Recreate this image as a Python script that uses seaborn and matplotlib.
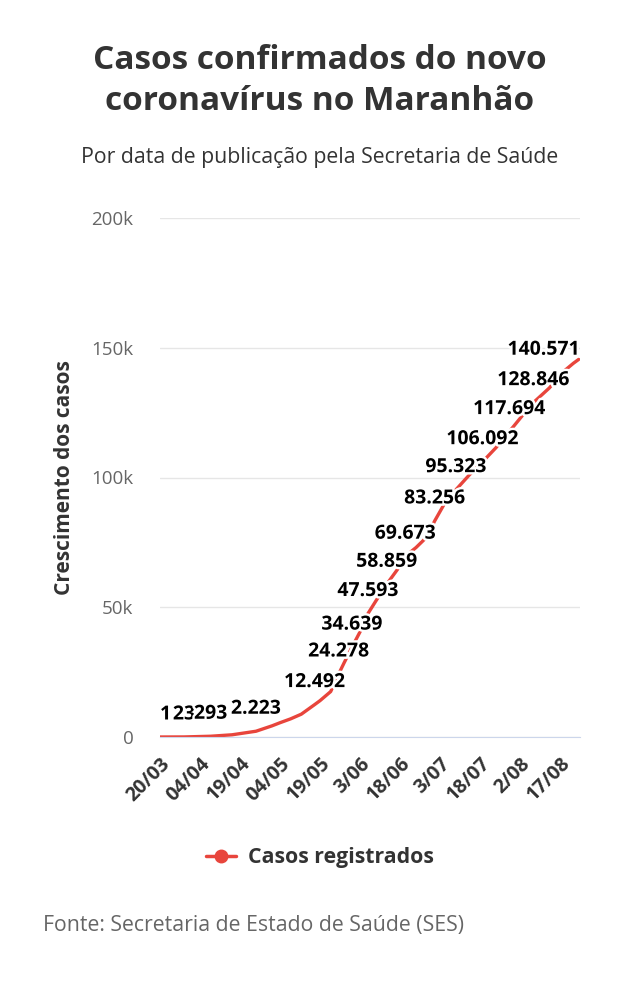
import matplotlib
matplotlib.use("Agg")
import matplotlib.pyplot as plt
import matplotlib.patheffects as pe
from matplotlib.lines import Line2D
import pandas as pd
import seaborn as sns

# Curve (date, cumulative cases)
line_dates = ["2020-03-20", "2020-03-29", "2020-04-08", "2020-04-16", "2020-04-25",
              "2020-05-01", "2020-05-04", "2020-05-08", "2020-05-12", "2020-05-17",
              "2020-05-19", "2020-05-23", "2020-05-26", "2020-05-28", "2020-05-31",
              "2020-06-03", "2020-06-06", "2020-06-09", "2020-06-13", "2020-06-17",
              "2020-06-20", "2020-06-24", "2020-06-28", "2020-07-01", "2020-07-05",
              "2020-07-09", "2020-07-14", "2020-07-19", "2020-07-24", "2020-07-29",
              "2020-08-03", "2020-08-07", "2020-08-13", "2020-08-18", "2020-08-22",
              "2020-08-24"]
line_cases = [1, 23, 293, 850, 2223,
              4300, 5500, 7000, 8800, 12492,
              14000, 17500, 24278, 28500, 34639,
              40500, 47593, 52500, 58859, 64500,
              69673, 73000, 77000, 83256, 90500,
              95323, 101000, 106092, 111500, 117694,
              124000, 128846, 134500, 140571, 144000,
              145500]

# points that carry a value label
label_dates = ["2020-03-20", "2020-03-29", "2020-04-08", "2020-04-25", "2020-05-17",
               "2020-05-26", "2020-05-31", "2020-06-06", "2020-06-13", "2020-06-20",
               "2020-07-01", "2020-07-09", "2020-07-19", "2020-07-29", "2020-08-07",
               "2020-08-18"]
label_texts = ["1", "23", "293", "2.223", "12.492", "24.278", "34.639", "47.593",
               "58.859", "69.673", "83.256", "95.323", "106.092", "117.694",
               "128.846", "140.571"]

tick_dates = ["2020-03-20", "2020-04-04", "2020-04-19", "2020-05-04", "2020-05-19",
              "2020-06-03", "2020-06-18", "2020-07-03", "2020-07-18", "2020-08-02",
              "2020-08-17"]
tick_labels = ["20/03", "04/04", "19/04", "04/05", "19/05", "3/06", "18/06", "3/07",
               "18/07", "2/08", "17/08"]
y_ticks = [0, 50000, 100000, 150000, 200000]
y_tick_labels = ["0", "50k", "100k", "150k", "200k"]

RED = "#e8453c"
DARK = "#333333"
GREY = "#666666"

sns.set_style("white")
plt.rcParams['font.family'] = ['Open Sans', 'DejaVu Sans']

df = pd.DataFrame({"data": pd.to_datetime(line_dates), "casos": line_cases})
lab = pd.DataFrame({"data": pd.to_datetime(label_dates), "txt": label_texts})
lab = lab.merge(df, on="data", how="left")

fig = plt.figure(figsize=(6.4, 10), dpi=100)
ax = fig.add_axes([160 / 640, 1 - 737 / 1000, 420 / 640, (737 - 218) / 1000])

sns.lineplot(data=df, x="data", y="casos", color=RED, linewidth=2.4, ax=ax)

start = pd.Timestamp("2020-03-20")
ax.set_xlim(start, start + pd.Timedelta(days=157.5))
ax.set_ylim(0, 200000)

# value labels; first and last kept inside the plot area like the original
for i, r in lab.iterrows():
    ha, x = "center", r["data"]
    if i == 0:
        ha = "left"
    elif i == len(lab) - 1:
        ha, x = "right", ax.get_xlim()[1]
    ax.annotate(r["txt"], (x, r["casos"]),
                xytext=(0, 9), textcoords="offset points", ha=ha, va="bottom",
                fontsize=14, fontweight="bold", color="black",
                path_effects=[pe.withStroke(linewidth=3.5, foreground="white")],
                annotation_clip=False)

ax.set_yticks(y_ticks)
ax.set_yticklabels(y_tick_labels, color=GREY, fontsize=13.5)
ax.set_xticks(pd.to_datetime(tick_dates))
ax.set_xticklabels(tick_labels, rotation=45, ha="right", rotation_mode="anchor",
                   fontsize=14, fontweight="bold", color=DARK)
ax.tick_params(axis="y", length=0, pad=19)
ax.tick_params(axis="x", length=8, width=1, color="#ccd6eb", pad=4)
ax.grid(axis="y", color="#e6e6e6", linewidth=1)
ax.grid(axis="x", visible=False)
for s in ["top", "right", "left"]:
    ax.spines[s].set_visible(False)
ax.spines["bottom"].set_color("#ccd6eb")
ax.set_xlabel("")
ax.set_ylabel("Crescimento dos casos", fontsize=15, fontweight="bold", color=DARK,
              labelpad=12)

fig.text(0.5, 1 - 81 / 1000, "Casos confirmados do novo\ncoronavírus no Maranhão",
         ha="center", va="center", fontsize=24, fontweight="bold", color=DARK,
         linespacing=1.33)
fig.text(0.5, 1 - 157 / 1000, "Por data de publicação pela Secretaria de Saúde",
         ha="center", va="center", fontsize=15.3, color=DARK)

handle = Line2D([], [], color=RED, marker="o", markersize=9, linewidth=2.5)
fig.legend([handle], ["Casos registrados"], loc="center",
           bbox_to_anchor=(0.5, 1 - 858 / 1000), frameon=False, handlelength=1.4,
           handletextpad=0.6, prop={"weight": "bold", "size": 15.3}, labelcolor=DARK)

fig.text(43 / 640, 1 - 925 / 1000, "Fonte: Secretaria de Estado de Saúde (SES)",
         ha="left", va="center", fontsize=15.3, color=GREY)

fig.savefig("out.png", dpi=100, facecolor="white")
